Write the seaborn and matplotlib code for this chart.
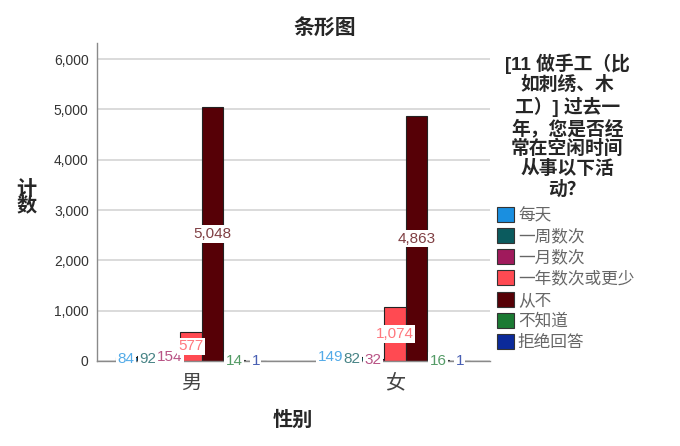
import matplotlib
matplotlib.use("Agg")
import matplotlib.pyplot as plt
import matplotlib.colors as mcolors
from matplotlib.patches import Patch
import pandas as pd
import seaborn as sns

# data
genders = ["男", "女"]
answers = ["每天", "一周数次", "一月数次", "一年数次或更少", "从不", "不知道", "拒绝回答"]
male_counts = [84, 92, 154, 577, 5048, 14, 1]
female_counts = [149, 82, 32, 1074, 4863, 16, 1]
y_ticks = [0, 1000, 2000, 3000, 4000, 5000, 6000]

bar_colors = ["#1a8fe0", "#0b5b5e", "#a01a5c", "#ff4a52", "#560006", "#1b7a33", "#0b2a9a"]
legend_title = "[11 做手工（比\n如刺绣、木\n工）] 过去一\n年，您是否经\n常在空闲时间\n从事以下活\n动？"

rows = []
for g, counts in zip(genders, [male_counts, female_counts]):
    for a, c in zip(answers, counts):
        rows.append({"性别": g, "answer": a, "计数": c})
df = pd.DataFrame(rows)

sns.set_style("white")
plt.rcParams["font.family"] = ["Liberation Sans", "Noto Sans CJK SC"]

fig = plt.figure(figsize=(6.8, 4.46), dpi=100)
ax = fig.add_axes([97 / 680, 1 - 361 / 446, (490 - 97) / 680, (361 - 43) / 446])

sns.barplot(data=df, x="性别", y="计数", hue="answer", hue_order=answers,
            order=genders, palette=bar_colors, saturation=1, width=0.74,
            edgecolor="#222222", linewidth=0.8, legend=False, ax=ax, zorder=2)

ax.set_xlim(-0.461, 1.466)
ax.set_ylim(0, 6320)
ax.set_yticks(y_ticks)
ax.set_yticklabels([f"{v:,}" for v in y_ticks], fontsize=10, color="#333333")
ax.tick_params(axis="y", length=0, pad=6)
ax.tick_params(axis="x", length=0, pad=9, labelsize=14.5, labelcolor="#444444")
ax.yaxis.grid(True, color="#d4d4d4", linewidth=1.2, zorder=0)
ax.set_axisbelow(True)
for side in ["top", "right"]:
    ax.spines[side].set_visible(False)
for side in ["left", "bottom"]:
    ax.spines[side].set_color("#8a8a8a")
    ax.spines[side].set_linewidth(1.0)
ax.set_xlabel("")
ax.set_ylabel("")

# value labels at half height, in a lighter shade of the bar colour
for container, col in zip(ax.containers, bar_colors):
    rgb = mcolors.to_rgb(col)
    light = tuple(0.75 * c + 0.25 for c in rgb)
    for bar in container:
        h = bar.get_height()
        ax.text(bar.get_x() + bar.get_width() / 2, h / 2, f"{int(round(h)):,}",
                ha="center", va="center", fontsize=11, color=light, zorder=5,
                bbox=dict(boxstyle="square,pad=0.1", fc="white", ec="none"))

fig.text(0.478, 0.937, "条形图", ha="center", va="center", fontsize=15, fontweight="bold")
fig.text(0.431, 0.058, "性别", ha="center", va="center", fontsize=14.5, fontweight="bold")
fig.text(0.039, 0.557, "计\n数", ha="center", va="center", fontsize=14.5, fontweight="bold",
         linespacing=0.85)

fig.text(0.834, 0.880, legend_title, ha="center", va="top", fontsize=13.5, fontweight="bold",
         multialignment="center", linespacing=1.15)

handles = [Patch(facecolor=c, edgecolor="#333333", linewidth=0.8) for c in bar_colors]
leg = fig.legend(handles, answers, loc="upper left", bbox_to_anchor=(497 / 680, 1 - 207 / 446),
                 frameon=False, fontsize=12, handlelength=1.0, handleheight=1.0,
                 handletextpad=0.25, labelspacing=0.3, borderpad=0, borderaxespad=0)
for t in leg.get_texts():
    t.set_color("#666666")

fig.savefig("out.png", dpi=100)
